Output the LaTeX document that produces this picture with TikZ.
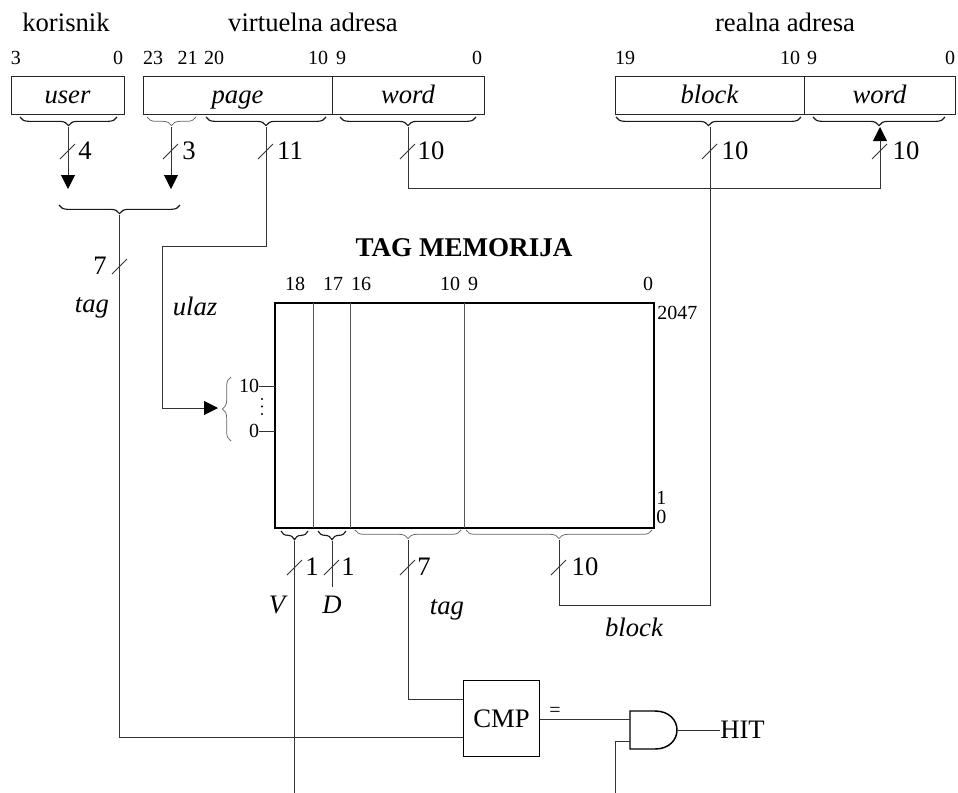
\documentclass[tikz,border=0pt]{standalone}
\usepackage{fontspec}
\setmainfont{Liberation Serif}
\usepackage{tikz}
\usetikzlibrary{arrows.meta,decorations.pathreplacing}
\definecolor{wireGray}{HTML}{555555}
\tikzset{
  wire/.style={draw=black!80, line width=0.75pt},
  bus/.style={wire, -{Triangle[length=10.5pt,width=10.5pt,color=black]}},
  cut/.style={draw=black!80, line width=0.6pt},
  column/.style={draw=wireGray, line width=0.65pt},
  field/.style={draw=black!85, line width=0.7pt, minimum height=28.5pt,
    inner sep=0pt, outer sep=0pt, text height=14pt, text depth=2pt,
    font=\fontsize{20}{22}\selectfont\itshape},
  memory/.style={draw=black, line width=1.5pt, minimum width=284.25pt,
    minimum height=168.75pt, inner sep=0pt, outer sep=0pt},
  comparator/.style={draw=black, line width=1.1pt, minimum width=57pt,
    minimum height=57pt, inner sep=0pt, outer sep=0pt,
    font=\fontsize{20}{22}\selectfont},
  gate/.style={draw=black, line width=1.1pt},
  brace thin/.style={draw=black!60, line width=0.55pt,
    decorate, decoration={brace, amplitude=6.5pt}},
  brace thick/.style={draw=black!90, line width=0.85pt,
    decorate, decoration={brace, amplitude=6.5pt}},
  big label/.style={inner sep=0pt, font=\fontsize{20}{22}\selectfont},
  big italic/.style={inner sep=0pt, font=\fontsize{20}{22}\selectfont\itshape},
  bit label/.style={inner sep=0pt, font=\fontsize{15}{17}\selectfont}
}
\begin{document}
\begin{tikzpicture}[x=0.75pt,y=-0.75pt]
  \useasboundingbox (0,0) rectangle (958,793);
  % address fields
  \node[big label] (korisnik) at (66,22) {korisnik};
  \node[big label] (virtuelna) at (313,22) {virtuelna adresa};
  \node[big label] (realna) at (785,22) {realna adresa};
  \node[field, minimum width=84.75pt] (user) at (67.5,95) {user};
  \node[field, minimum width=141.75pt] (page) at (237.5,95) {page};
  \node[field, minimum width=114pt] (vword) at (408,95) {word};
  \node[field, minimum width=141.75pt] (block) at (709.5,95) {block};
  \node[field, minimum width=113.25pt] (rword) at (879.5,95) {word};
  \node[bit label] (u3) at (16,58) {3};
  \node[bit label] (u0) at (118,58) {0};
  \node[bit label] (v23) at (153,58) {23};
  \node[bit label] (v21) at (187.5,58) {21};
  \node[bit label] (v20) at (214,58) {20};
  \node[bit label] (v10) at (318,58) {10};
  \node[bit label] (v9) at (341,58) {9};
  \node[bit label] (v0) at (477,58) {0};
  \node[bit label] (r19) at (625,58) {19};
  \node[bit label] (r10) at (790,58) {10};
  \node[bit label] (r9) at (812,58) {9};
  \node[bit label] (r0) at (950,58) {0};
  % braces under the fields
  \draw[brace thick] (117,117) -- (20,117);
  \draw[brace thin] (196,117) -- (147,117);
  \draw[brace thick] (326,117) -- (206,117);
  \draw[brace thick] (476,117) -- (340,117);
  \draw[brace thick] (801,117) -- (616,117);
  \draw[brace thick] (945,117) -- (813,117);
  \draw[brace thick] (180,205) -- (59,205);
  \draw[brace thin] (231,441) -- (231,377);
  \draw[brace thick] (308,531) -- (281,531);
  \draw[brace thick] (346,531) -- (318,531);
  \draw[brace thin] (461,530) -- (355,530);
  \draw[brace thin] (652,530) -- (466,530);
  % tips of the braces
  \coordinate (userTip) at (68,127);
  \coordinate (highTip) at (171,127);
  \coordinate (pageTip) at (266,127);
  \coordinate (vwordTip) at (408,127);
  \coordinate (blockTip) at (710,127);
  \coordinate (rwordTip) at (880,127);
  \coordinate (tagTip) at (119,215);
  \coordinate (addrTip) at (218,408);
  \coordinate (vTip) at (294,541);
  \coordinate (dTip) at (332,541);
  \coordinate (mtagTip) at (408,540);
  \coordinate (mblockTip) at (559,540);
  \coordinate (userEnd) at (68,189);
  \coordinate (highEnd) at (171,189);
  \coordinate (dEnd) at (332,587);
  \coordinate (vEnd) at (294,793);
  % tag memory
  \node[inner sep=0pt, font=\fontsize{20.3}{22}\selectfont\bfseries] (title) at (464,248) {TAG MEMORIJA};
  \node[memory] (tagmem) at (464.5,415.5) {};
  \draw[column] (313,303) -- (313,528);
  \draw[column] (350,303) -- (350,528);
  \draw[column] (464,303) -- (464,528);
  \node[bit label] (m18) at (295,284) {18};
  \node[bit label] (m17) at (333,284) {17};
  \node[bit label] (m16) at (361,284) {16};
  \node[bit label] (m10) at (450,284) {10};
  \node[bit label] (m9) at (473,284) {9};
  \node[bit label] (m0) at (648,284) {0};
  \node[bit label, anchor=west] (r2047) at (657,313) {2047};
  \node[bit label, anchor=west] (r1) at (656,498) {1};
  \node[bit label, anchor=west] (r00) at (656,517) {0};
  \node[bit label] (a10) at (249,386) {10};
  \node[bit label] (a0) at (254,431) {0};
  \fill[black] (262,399) circle[radius=1.1];
  \fill[black] (262,406.5) circle[radius=1.1];
  \fill[black] (262,414) circle[radius=1.1];
  \draw[wire] (a10.east) -- (a10.east -| tagmem.west);
  \draw[wire] (a0.east) -- (a0.east -| tagmem.west);
  % comparator and gate
  \node[comparator] (cmp) at (501.5,718.5) {CMP};
  \coordinate (cmpIn1) at (463,699);
  \coordinate (cmpIn2) at (463,737);
  \coordinate (cmpOut) at (540,719);
  \coordinate (andIn1) at (630,719);
  \coordinate (andIn2) at (630,741);
  \coordinate (andOut) at (677,730);
  \coordinate (andEnd) at (615,793);
  \draw[gate] (630,711) -- (655,711) .. controls (669,711) and (677,720) .. (andOut)
    .. controls (677,740) and (669,749) .. (655,749) -- (630,749) -- cycle;
  \node[big label, anchor=west] (hit) at (720,730) {HIT};
  \node[bit label] (eq) at (555,712) {=};
  % connections
  \draw[bus] (userTip) -- (userEnd);
  \draw[bus] (highTip) -- (highEnd);
  \draw[bus] (pageTip) |- (162,246) |- (addrTip);
  \draw[bus] (vwordTip) |- (880,188) -- (rwordTip);
  \draw[wire] (blockTip) |- (559,605) -- (mblockTip);
  \draw[wire] (tagTip) |- (cmpIn2);
  \draw[wire] (mtagTip) |- (cmpIn1);
  \draw[wire] (vTip) -- (vEnd);
  \draw[wire] (dTip) -- (dEnd);
  \draw[wire] (cmpOut) -- (andIn1);
  \draw[wire] (andEnd) |- (andIn2);
  \draw[wire] (andOut) -- (hit.west);
  % width marks
  \draw[cut] (60,159) -- (75,144);
  \draw[cut] (163,159) -- (178,144);
  \draw[cut] (258,159) -- (273,144);
  \draw[cut] (400,159) -- (415,144);
  \draw[cut] (702,159) -- (717,144);
  \draw[cut] (872,159) -- (887,144);
  \draw[cut] (112,274) -- (127,259);
  \draw[cut] (287,575) -- (302,560);
  \draw[cut] (324,575) -- (339,560);
  \draw[cut] (400,575) -- (415,560);
  \draw[cut] (551,575) -- (566,560);
  \node[big label] (w4) at (85,151) {4};
  \node[big label] (w3) at (189,151) {3};
  \node[big label] (w11) at (290,151) {11};
  \node[big label] (w10a) at (431,151) {10};
  \node[big label] (w10b) at (735,151) {10};
  \node[big label] (w10c) at (906,151) {10};
  \node[big label] (w7) at (100,266) {7};
  \node[big italic] (ltag) at (92,308) {tag};
  \node[big italic] (lulaz) at (195,306) {ulaz};
  \node[big label] (w1a) at (312,567) {1};
  \node[big label] (w1b) at (348,567) {1};
  \node[big label] (w7b) at (424,567) {7};
  \node[big label] (w10d) at (585,567) {10};
  \node[big italic] (lv) at (277,605) {V};
  \node[big italic] (ld) at (332,605) {D};
  \node[big italic] (ltagb) at (447,610) {tag};
  \node[big italic] (lblock) at (634,627) {block};
\end{tikzpicture}
\end{document}
